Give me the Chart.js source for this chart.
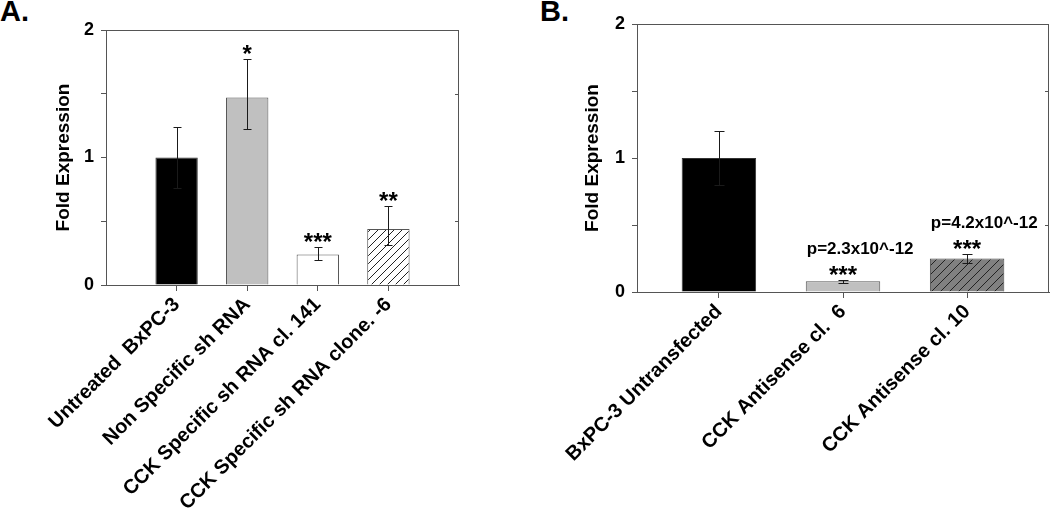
<!DOCTYPE html>
<html>
<head>
<meta charset="utf-8">
<script src="https://cdn.jsdelivr.net/npm/chart.js@4.4.1/dist/chart.umd.min.js"></script>
<style>
  body { margin: 0; background: #fff; width: 1050px; height: 511px; position: relative; overflow: hidden; font-family: 'Liberation Sans', Arial, sans-serif; }
  .panel { position: absolute; top: 0; height: 511px; }
  #wrapA { left: 0; width: 520px; }
  #wrapB { left: 530px; width: 520px; }
  .tag { position: absolute; top: -5px; font-weight: bold; font-size: 29px; line-height: 32px; }
</style>
</head>
<body>
<div class="tag" style="left:0">A.</div>
<div class="tag" style="left:540px">B.</div>
<div class="panel" id="wrapA"><canvas id="chartA"></canvas></div>
<div class="panel" id="wrapB"><canvas id="chartB"></canvas></div>
<script>
// panel A
const catsA = ['Untreated  BxPC-3', 'Non Specific sh RNA', 'CCK Specific sh RNA cl. 141', 'CCK Specific sh RNA clone. -6']
const valsA = [1.0, 1.47, 0.24, 0.44]
const hiA = [1.24, 1.77, 0.30, 0.62]
const loA = [0.76, 1.22, 0.20, 0.31]
const starsA = ['', '*', '***', '**']

// panel B
const catsB = ['BxPC-3 Untransfected', 'CCK Antisense cl.  6', 'CCK Antisense cl. 10']
const valsB = [1.0, 0.08, 0.25]
const hiB = [1.20, 0.09, 0.285]
const loB = [0.80, 0.07, 0.22]
const starsB = ['', '***', '***']
const pvalsB = ['', 'p=2.3x10^-12', 'p=4.2x10^-12']

const yTicks = [0, 0.5, 1, 1.5, 2]

Chart.defaults.font.family = "'Liberation Sans', Arial, sans-serif"
Chart.defaults.font.weight = 'bold'
Chart.defaults.color = '#000'

const AXIS = '#555'

function hatch(bg, fg, gap) {
    let c = document.createElement('canvas')
    c.width = gap; c.height = gap
    let g = c.getContext('2d')
    g.fillStyle = bg
    g.fillRect(0, 0, gap, gap)
    g.strokeStyle = fg
    g.lineWidth = 1
    g.beginPath()
    g.moveTo(0, gap); g.lineTo(gap, 0)
    g.moveTo(-1, 1); g.lineTo(1, -1)
    g.moveTo(gap - 1, gap + 1); g.lineTo(gap + 1, gap - 1)
    g.stroke()
    return g.createPattern(c, 'repeat')
}

// frame, error bars and significance text
const extras = {
    id: 'extras',
    afterDatasetsDraw(chart, args, opts) {
        const ctx = chart.ctx
        const a = chart.chartArea
        const x = chart.scales.x, y = chart.scales.y
        const bars = chart.getDatasetMeta(0).data
        ctx.save()
        ctx.strokeStyle = AXIS
        ctx.lineWidth = 1
        ctx.strokeRect(Math.round(a.left) + 0.5, Math.round(a.top) + 0.5, Math.round(a.right - a.left) - 1, Math.round(a.bottom - a.top))
        // minor ticks on the right side
        ctx.beginPath()
        ;[0.5, 1.5].forEach(v => {
            let py = Math.round(y.getPixelForValue(v)) + 0.5
            ctx.moveTo(a.right - 4, py); ctx.lineTo(a.right, py)
        })
        ctx.stroke()
        // error bars
        ctx.strokeStyle = '#1a1a1a'
        opts.hi.forEach((h, i) => {
            let px = Math.round(x.getPixelForValue(i + 1)) + 0.5
            let yh = Math.round(y.getPixelForValue(h)) + 0.5
            let yl = Math.round(y.getPixelForValue(opts.lo[i])) + 0.5
            ctx.beginPath()
            ctx.moveTo(px, yl); ctx.lineTo(px, yh)
            ctx.moveTo(px - opts.cap, yh); ctx.lineTo(px + opts.cap, yh)
            ctx.moveTo(px - opts.cap, yl); ctx.lineTo(px + opts.cap, yl)
            ctx.stroke()
        })
        ctx.fillStyle = '#000'
        ctx.textBaseline = 'alphabetic'
        ctx.font = "bold 24px 'Liberation Sans', Arial"
        ctx.textAlign = 'center'
        opts.stars.forEach((s, i) => {
            if (!s) return
            let px = x.getPixelForValue(i + 1)
            let yh = y.getPixelForValue(opts.hi[i])
            ctx.fillText(s, px, yh + 3)
        })
        if (opts.pvals) {
            ctx.font = "bold 17px 'Liberation Sans', Arial"
            ctx.textAlign = 'left'
            opts.pvals.forEach((s, i) => {
                if (!s) return
                let bar = bars[i]
                let yh = y.getPixelForValue(opts.hi[i])
                ctx.fillText(s, bar.x - bar.width / 2 + 1, yh - 26)
            })
        }
        ctx.restore()
    }
}

function makeChart(id, cats, vals, colors, borders, xMin, xMax, area, extraOpts, titlePad) {
    return new Chart(document.getElementById(id), {
        type: 'bar',
        data: {
            datasets: [{
                data: vals.map((v, i) => ({ x: i + 1, y: v })),
                backgroundColor: colors,
                borderColor: borders,
                borderWidth: 1,
                barPercentage: 0.6,
                categoryPercentage: 1
            }]
        },
        options: {
            responsive: true,
            maintainAspectRatio: false,
            animation: false,
            layout: { padding: { left: 0, right: area.right, top: area.top, bottom: 0 } },
            plugins: {
                legend: { display: false },
                tooltip: { enabled: false },
                extras: extraOpts
            },
            scales: {
                x: {
                    type: 'linear',
                    min: xMin,
                    max: xMax,
                    offset: false,
                    afterBuildTicks: s => { s.ticks = cats.map((c, i) => ({ value: i + 1 })) },
                    afterFit: s => { s.height = area.xHeight },
                    ticks: {
                        autoSkip: false,
                        minRotation: 45,
                        maxRotation: 45,
                        padding: 2,
                        font: { size: 20, weight: 'bold' },
                        callback: v => cats[v - 1]
                    },
                    grid: { offset: false, drawOnChartArea: false, tickLength: 6, color: AXIS },
                    border: { color: AXIS }
                },
                y: {
                    min: 0,
                    max: 2,
                    afterBuildTicks: s => { s.ticks = yTicks.map(v => ({ value: v })) },
                    afterFit: s => { s.width = area.yWidth },
                    ticks: {
                        padding: 7,
                        font: { size: 18, weight: 'bold' },
                        callback: v => Number.isInteger(v) ? v : ''
                    },
                    grid: { drawOnChartArea: false, tickLength: 5, color: AXIS },
                    border: { color: AXIS },
                    title: {
                        display: true,
                        text: 'Fold Expression',
                        font: { size: 19, weight: 'bold' },
                        padding: { top: titlePad, bottom: 0 }
                    }
                }
            }
        },
        plugins: [extras]
    })
}

makeChart('chartA', catsA, valsA,
    ['#000000', '#c0c0c0', '#ffffff', hatch('#ffffff', '#222', 8)],
    ['#333', '#555', '#555', '#555'],
    0, 5,
    { right: 61, top: 30, xHeight: 226, yWidth: 106 },
    { hi: hiA, lo: loA, stars: starsA, cap: 4 }, 52)

makeChart('chartB', catsB, valsB,
    ['#000000', '#c0c0c0', hatch('#808080', '#222', 9)],
    ['#333', '#555', '#444'],
    0.34, 3.66,
    { right: 1, top: 24, xHeight: 219, yWidth: 107 },
    { hi: hiB, lo: loB, stars: starsB, pvals: pvalsB, cap: 5 }, 51)
</script>
</body>
</html>
